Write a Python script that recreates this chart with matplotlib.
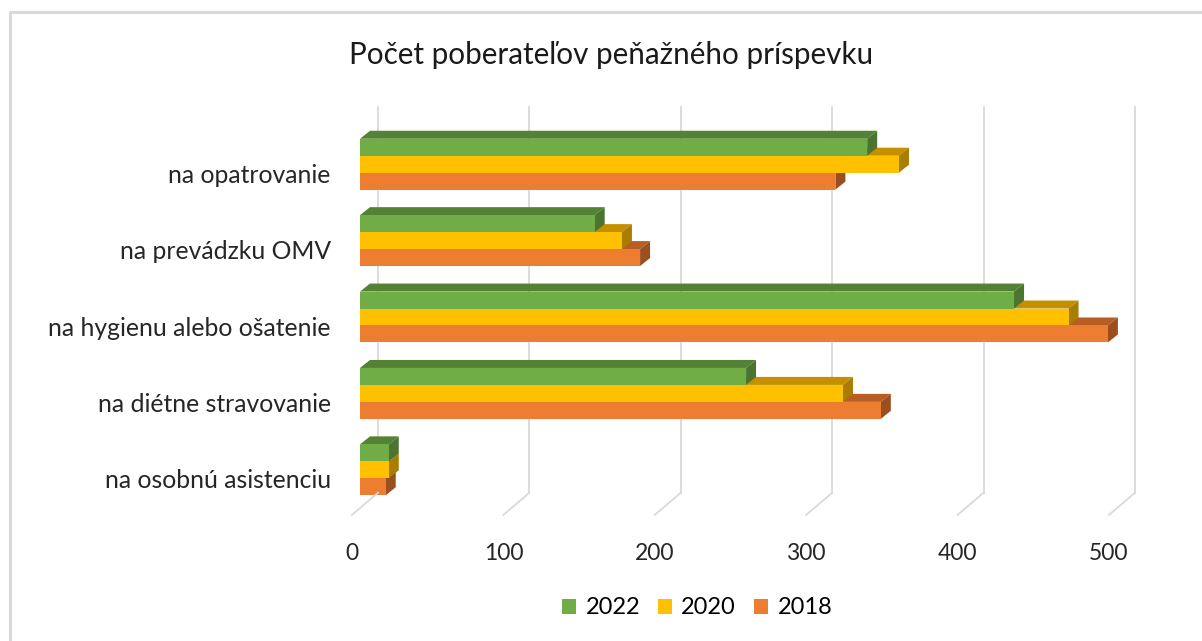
import numpy as np
import matplotlib
matplotlib.use("Agg")
import matplotlib.pyplot as plt
from matplotlib.patches import Polygon, Patch
from matplotlib import transforms as mtrans

plt.rcParams['font.family'] = ['Lato', 'DejaVu Sans']

categories = ["na osobnú asistenciu", "na diétne stravovanie",
              "na hygienu alebo ošatenie", "na prevádzku OMV", "na opatrovanie"]
v2022 = [19, 255, 432, 155, 335]
v2020 = [19, 319, 468, 173, 356]
v2018 = [17, 344, 494, 185, 314]
years = ["2022", "2020", "2018"]
xticks = [0, 100, 200, 300, 400, 500]

# front, top, side colours
colors = {
    "2022": ("#70AD47", "#548235", "#4B7430"),
    "2020": ("#FFC000", "#C49000", "#A87D00"),
    "2018": ("#ED7D31", "#B85E24", "#9C4F1E"),
}

W, H = 1202, 641
fig = plt.figure(figsize=(W / 100, H / 100), dpi=100)

# outer chart border (only top and left visible)
fig.lines.append(plt.Line2D([10 / W, 10 / W, 1.0], [0.0, 1 - 12 / H, 1 - 12 / H],
                            transform=fig.transFigure, color="#D9D9D9", lw=2.2))

ax = fig.add_axes([360 / W, (H - 508) / H, 757 / W, 382 / H])
ax.set_xlim(0, 500)
ax.set_ylim(-0.5, 4.5)
for s in ax.spines.values():
    s.set_visible(False)
ax.tick_params(length=0)

dx, dy = 10, 8  # depth offset in pixels


def px(x, y):
    return mtrans.ScaledTranslation(x / 100, y / 100, fig.dpi_scale_trans)


# gridlines: back vertical part plus diagonal floor part
blend = mtrans.blended_transform_factory(ax.transData, ax.transAxes)
for t in xticks:
    ax.plot([t, t], [0.04, 1.05], transform=blend + px(18, 0), color="#D9D9D9",
            lw=1.3, clip_on=False, zorder=0)
    x0 = ax.transData.transform((t, 0))[0]
    fx = [(x0 + 18) / W, (x0 - 8) / W]
    fy = [ax.transAxes.transform((0, 0.04))[1] / H, ax.transAxes.transform((0, -0.018))[1] / H]
    fig.lines.append(plt.Line2D(fx, fy, transform=fig.transFigure, color="#D9D9D9", lw=1.3))

bh = 0.222
y = np.arange(len(categories))
offsets = {"2018": -bh, "2020": 0.0, "2022": bh}
series = {"2022": v2022, "2020": v2020, "2018": v2018}

z = 2
for yr in ["2018", "2020", "2022"]:
    front, top, side = colors[yr]
    vals = series[yr]
    for i, v in enumerate(vals):
        yc = y[i] + offsets[yr]
        y0, y1 = yc - bh / 2, yc + bh / 2
        ax.barh(yc, v, height=bh, color=front, edgecolor="none", zorder=z + 0.5)
        p0 = ax.transData.transform((0, y1))
        p1 = ax.transData.transform((v, y1))
        p2 = ax.transData.transform((v, y0))
        topface = [(p0[0], p0[1]), (p1[0], p1[1]), (p1[0] + dx, p1[1] + dy), (p0[0] + dx, p0[1] + dy)]
        sideface = [(p2[0], p2[1]), (p1[0], p1[1]), (p1[0] + dx, p1[1] + dy), (p2[0] + dx, p2[1] + dy)]
        ax.add_patch(Polygon(topface, closed=True, transform=None, facecolor=top,
                             edgecolor="none", zorder=z, clip_on=False))
        ax.add_patch(Polygon(sideface, closed=True, transform=None, facecolor=side,
                             edgecolor="none", zorder=z, clip_on=False))
    z += 1

ax.set_xticks(xticks)
ax.set_xticklabels([str(t) for t in xticks], fontsize=16.5, color="#262626")
ax.tick_params(axis="x", pad=25)
for lab in ax.get_xticklabels():
    lab.set_transform(lab.get_transform() + px(-8, 0))
ax.set_yticks(y)
ax.set_yticklabels(categories, fontsize=17.8, color="#262626")
ax.tick_params(axis="y", pad=21)
for lab in ax.get_yticklabels():
    lab.set_transform(lab.get_transform() + px(0, -9))

fig.text(611 / W, 1 - 55 / H, "Počet poberateľov peňažného príspevku", ha="center",
         va="center", fontsize=21.3, color="#1a1a1a")

handles = [Patch(facecolor=colors[yr][0], edgecolor="none") for yr in years]
fig.legend(handles, years, loc="center", bbox_to_anchor=(697 / W, 1 - 608 / H), ncol=3,
           frameon=False, fontsize=17, handlelength=0.6, handleheight=0.6,
           columnspacing=0.75, handletextpad=0.4)

fig.savefig("out.png", dpi=100)
